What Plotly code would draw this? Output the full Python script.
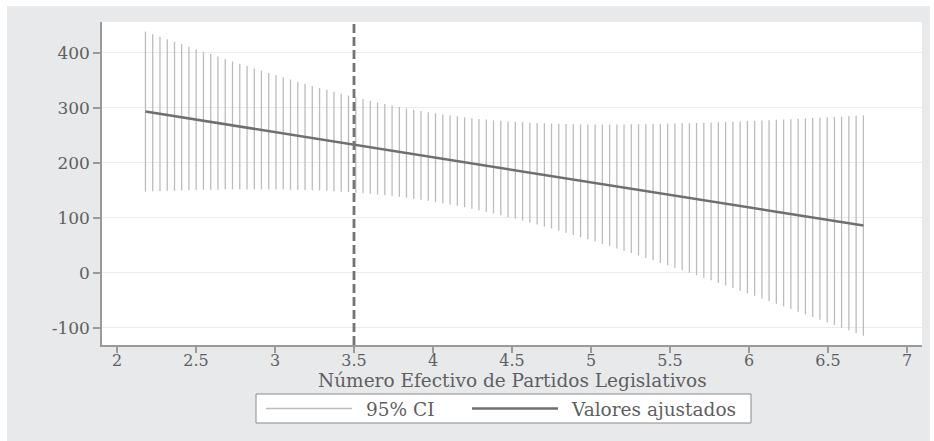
import plotly.graph_objects as go

# Número Efectivo de Partidos Legislativos (x), fitted values and 95% CI bounds
x_vals = [2.18, 2.226, 2.272, 2.318, 2.364, 2.409, 2.455, 2.501, 2.547, 2.593,
          2.639, 2.685, 2.731, 2.777, 2.823, 2.869, 2.914, 2.96, 3.006, 3.052,
          3.098, 3.144, 3.19, 3.236, 3.282, 3.328, 3.373, 3.419, 3.465, 3.511,
          3.557, 3.603, 3.649, 3.695, 3.741, 3.787, 3.832, 3.878, 3.924, 3.97,
          4.016, 4.062, 4.108, 4.154, 4.2, 4.246, 4.291, 4.337, 4.383, 4.429,
          4.475, 4.521, 4.567, 4.613, 4.659, 4.705, 4.75, 4.796, 4.842, 4.888,
          4.934, 4.98, 5.026, 5.072, 5.118, 5.164, 5.209, 5.255, 5.301, 5.347,
          5.393, 5.439, 5.485, 5.531, 5.577, 5.623, 5.668, 5.714, 5.76, 5.806,
          5.852, 5.898, 5.944, 5.99, 6.036, 6.082, 6.127, 6.173, 6.219, 6.265,
          6.311, 6.357, 6.403, 6.449, 6.495, 6.541, 6.586, 6.632, 6.678, 6.724]

fitted = [293.2, 291.1, 289.0, 286.9, 284.8, 282.8, 280.7, 278.6, 276.5, 274.4,
          272.3, 270.2, 268.1, 266.0, 263.9, 261.8, 259.7, 257.6, 255.5, 253.4,
          251.3, 249.2, 247.1, 245.0, 242.9, 240.9, 238.8, 236.7, 234.6, 232.5,
          230.4, 228.3, 226.2, 224.1, 222.0, 219.9, 217.9, 215.8, 213.7, 211.6,
          209.5, 207.4, 205.3, 203.2, 201.1, 199.0, 196.9, 194.8, 192.7, 190.6,
          188.5, 186.5, 184.4, 182.3, 180.2, 178.1, 176.0, 173.9, 171.8, 169.7,
          167.6, 165.5, 163.4, 161.3, 159.2, 157.2, 155.1, 153.0, 150.9, 148.8,
          146.7, 144.6, 142.5, 140.4, 138.3, 136.2, 134.1, 132.0, 129.9, 127.9,
          125.8, 123.7, 121.6, 119.5, 117.4, 115.3, 113.2, 111.1, 109.0, 106.9,
          104.8, 102.7, 100.6, 98.5, 96.5, 94.4, 92.3, 90.2, 88.1, 86.0]

ci_upper = [438.6, 433.9, 429.3, 424.7, 420.1, 415.7, 411.1, 406.6, 402.1, 397.7,
            393.3, 388.9, 384.5, 380.2, 376.0, 371.7, 367.6, 363.5, 359.4, 355.4,
            351.4, 347.5, 343.7, 339.9, 336.2, 332.7, 329.2, 325.7, 322.4, 319.1,
            315.9, 312.8, 309.8, 306.9, 304.2, 301.5, 299.0, 296.6, 294.3, 292.1,
            290.0, 288.0, 286.2, 284.5, 282.8, 281.3, 279.9, 278.6, 277.4, 276.4,
            275.4, 274.6, 273.8, 273.1, 272.4, 271.9, 271.3, 270.9, 270.6, 270.3,
            270.1, 269.9, 269.8, 269.8, 269.7, 269.8, 269.9, 270.0, 270.2, 270.4,
            270.6, 270.9, 271.1, 271.5, 271.8, 272.2, 272.5, 272.9, 273.5, 273.9,
            274.4, 274.9, 275.4, 276.0, 276.5, 277.1, 277.6, 278.2, 278.8, 279.4,
            280.1, 280.7, 281.4, 282.0, 282.7, 283.4, 284.1, 284.8, 285.5, 286.3]

ci_lower = [147.8, 148.3, 148.7, 149.1, 149.5, 149.9, 150.3, 150.6, 150.9, 151.1,
            151.3, 151.5, 151.7, 151.8, 151.8, 151.9, 151.8, 151.7, 151.6, 151.4,
            151.2, 150.9, 150.5, 150.1, 149.6, 149.1, 148.4, 147.7, 146.8, 145.9,
            144.9, 143.8, 142.6, 141.3, 139.8, 138.3, 136.8, 135.0, 133.1, 131.1,
            129.0, 126.8, 124.4, 121.9, 119.4, 116.7, 113.9, 111.0, 108.0, 104.8,
            101.6, 98.4, 95.0, 91.5, 88.0, 84.3, 80.7, 76.9, 73.0, 69.1,
            65.1, 61.1, 57.0, 52.8, 48.7, 44.4, 40.3, 36.0, 31.6, 27.2,
            22.8, 18.3, 13.9, 9.3, 4.8, 0.2, -4.3, -8.9, -13.5, -18.1,
            -22.8, -27.5, -32.2, -37.0, -41.7, -46.5, -51.2, -56.0, -60.8, -65.6,
            -70.5, -75.3, -80.2, -85.0, -89.9, -94.6, -99.5, -104.4, -109.3, -114.3]

x_ticks = [2, 2.5, 3, 3.5, 4, 4.5, 5, 5.5, 6, 6.5, 7]
x_tick_labels = ["2", "2.5", "3", "3.5", "4", "4.5", "5", "5.5", "6", "6.5", "7"]
y_ticks = [-100, 0, 100, 200, 300, 400]
y_tick_labels = ["-100", "0", "100", "200", "300", "400"]
ref_x = 3.5
legend_labels = ["95% CI", "Valores ajustados"]
x_title = "Número Efectivo de Partidos Legislativos"

CI_COLOR = "#bcbcbc"
FIT_COLOR = "#6f6f6f"
FONT = "DejaVu Serif"
TXT = "#5f5f5f"

ci_x, ci_y = [], []
for xv, lo, hi in zip(x_vals, ci_lower, ci_upper):
    ci_x += [xv, xv, None]
    ci_y += [lo, hi, None]

fig = go.Figure()
fig.add_trace(go.Scatter(x=ci_x, y=ci_y, mode="lines", name=legend_labels[0],
                         line=dict(color=CI_COLOR, width=1.3), showlegend=False,
                         hoverinfo="skip"))
fig.add_trace(go.Scatter(x=x_vals, y=fitted, mode="lines", name=legend_labels[1],
                         line=dict(color=FIT_COLOR, width=2.5), showlegend=False))

L, R, T, B = 102, 12, 22, 96
W, H = 934, 441
pw, ph = W - L - R, H - T - B


def px(xp):
    return (xp - L) / pw


def py(yp):
    return (H - B - yp) / ph


shapes = [
    # white page edges around the grey graph region
    dict(type="rect", xref="paper", yref="paper", x0=px(0), x1=px(7), y0=py(H), y1=py(0),
         fillcolor="white", line_width=0, layer="below"),
    dict(type="rect", xref="paper", yref="paper", x0=px(0), x1=px(W), y0=py(6), y1=py(0),
         fillcolor="white", line_width=0, layer="below"),
    dict(type="rect", xref="paper", yref="paper", x0=px(930), x1=px(W), y0=py(H), y1=py(0),
         fillcolor="white", line_width=0, layer="below"),
    # reference line
    dict(type="line", xref="x", yref="paper", x0=ref_x, x1=ref_x, y0=0, y1=1,
         line=dict(color="#737373", width=2.8, dash="9px,4px"), layer="above"),
    # custom legend box
    dict(type="rect", xref="paper", yref="paper", x0=px(256), x1=px(751), y0=py(423), y1=py(394),
         fillcolor="white", line=dict(color="#8a8a8a", width=1)),
    dict(type="line", xref="paper", yref="paper", x0=px(266), x1=px(352), y0=py(408.5), y1=py(408.5),
         line=dict(color=CI_COLOR, width=1.5)),
    dict(type="line", xref="paper", yref="paper", x0=px(472), x1=px(558), y0=py(408.5), y1=py(408.5),
         line=dict(color=FIT_COLOR, width=2.5)),
]

annotations = [
    dict(xref="paper", yref="paper", x=px(364), y=py(409), xanchor="left", yanchor="middle",
         text=legend_labels[0], showarrow=False, font=dict(family=FONT, size=18.5, color=TXT)),
    dict(xref="paper", yref="paper", x=px(569), y=py(409), xanchor="left", yanchor="middle",
         text=legend_labels[1], showarrow=False, font=dict(family=FONT, size=18.5, color=TXT)),
    # x-axis title
    dict(xref="paper", yref="paper", x=px(512), y=py(380), xanchor="center", yanchor="middle",
         text=x_title, showarrow=False, font=dict(family=FONT, size=18.5, color=TXT)),
]

fig.update_layout(
    width=W, height=H,
    margin=dict(l=L, r=R, t=T, b=B, pad=0),
    paper_bgcolor="#e8e9eb",
    plot_bgcolor="white",
    showlegend=False,
    shapes=shapes,
    annotations=annotations,
    xaxis=dict(range=[1.905, 7.095], tickvals=x_ticks, ticktext=x_tick_labels,
               showgrid=False, zeroline=False, showline=True, linecolor="#9a9a9a", linewidth=1.5,
               ticks="outside", ticklen=6, tickcolor="#9a9a9a", tickwidth=1.5,
               tickfont=dict(family=FONT, size=16, color=TXT), ticklabelstandoff=-6,
               automargin=False),
    yaxis=dict(range=[-131, 456], tickvals=y_ticks, ticktext=y_tick_labels,
               showgrid=True, gridcolor="#ebebeb", gridwidth=1, zeroline=False,
               showline=True, linecolor="#9a9a9a", linewidth=1.5,
               ticks="outside", ticklen=7, tickcolor="#9a9a9a", tickwidth=1.5,
               tickfont=dict(family=FONT, size=17, color=TXT), automargin=False),
)

fig.write_html("out.html")
